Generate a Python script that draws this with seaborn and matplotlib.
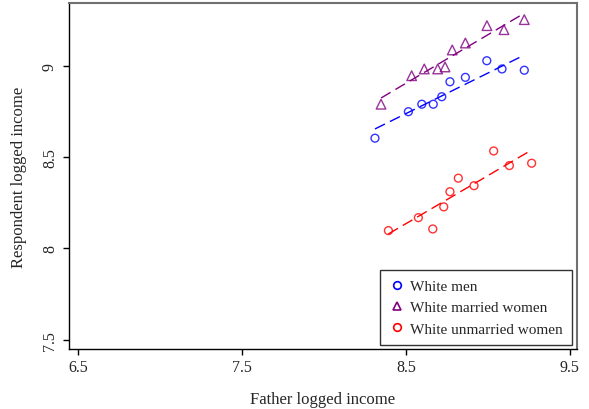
import matplotlib
matplotlib.use("Agg")
import matplotlib.pyplot as plt
from matplotlib.lines import Line2D
import seaborn as sns
import pandas as pd
import numpy as np

groups = ["White men", "White married women", "White unmarried women"]

men_x = [8.311, 8.515, 8.597, 8.667, 8.719, 8.769, 8.863, 8.994, 9.087, 9.223]
men_y = [8.603, 8.748, 8.789, 8.789, 8.830, 8.912, 8.936, 9.027, 8.982, 8.975]

married_x = [8.348, 8.535, 8.612, 8.694, 8.739, 8.783, 8.863, 8.995, 9.099, 9.223]
married_y = [8.789, 8.945, 8.982, 8.982, 8.993, 9.086, 9.124, 9.219, 9.197, 9.252]

unmarried_x = [8.393, 8.576, 8.664, 8.731, 8.769, 8.820, 8.916, 9.036, 9.132, 9.268]
unmarried_y = [8.097, 8.168, 8.106, 8.227, 8.310, 8.384, 8.343, 8.533, 8.453, 8.466]

x_ticks = [6.5, 7.5, 8.5, 9.5]
y_ticks = [7.5, 8, 8.5, 9]

df = pd.DataFrame({
    "father": men_x + married_x + unmarried_x,
    "resp": men_y + married_y + unmarried_y,
    "group": [groups[0]] * len(men_x) + [groups[1]] * len(married_x) + [groups[2]] * len(unmarried_x),
})

sns.set_style("ticks")
plt.rcParams["font.family"] = ["Liberation Serif", "DejaVu Serif"]

colors = {groups[0]: "#0000ff", groups[1]: "#800080", groups[2]: "#ff0000"}
markers = {groups[0]: "o", groups[1]: "^", groups[2]: "o"}
sizes = {groups[0]: 32, groups[1]: 48, groups[2]: 32}

fig = plt.figure(figsize=(5.89, 4.10), dpi=100)
ax = fig.add_axes([69 / 589, 60 / 410, (577 - 69) / 589, (350 - 4) / 410])

handles = []
for g in groups:
    sub = df[df["group"] == g]
    sns.regplot(data=sub, x="father", y="resp", ax=ax, ci=None, marker=markers[g],
                scatter_kws=dict(s=sizes[g], facecolors="none", edgecolors=colors[g],
                                 linewidths=1.0),
                line_kws=dict(color=colors[g], lw=1.0, dashes=(8, 4)))
    handles.append(Line2D([], [], ls="none", marker=markers[g], markersize=6.2 if markers[g] == "^" else 5.5,
                          markerfacecolor="none", markeredgecolor=colors[g], markeredgewidth=1.2, label=g))

ax.set_xlim(6.442, 9.545)
ax.set_ylim(7.449, 9.343)
ax.set_xticks(x_ticks)
ax.set_xticklabels([str(t) for t in x_ticks])
ax.set_yticks(y_ticks)
ax.set_yticklabels(["7.5", "8", "8.5", "9"], rotation=90, va="center")
ax.tick_params(axis="both", direction="out", length=4, width=1, labelsize=11.5, color="black")
ax.tick_params(axis="y", pad=4)
ax.tick_params(axis="x", pad=3)

ax.set_xlabel("Father logged income", fontsize=12, labelpad=12)
ax.set_ylabel("Respondent logged income", fontsize=12, labelpad=11)

for side in ["left", "bottom"]:
    ax.spines[side].set_color("black")
    ax.spines[side].set_linewidth(1.0)
for side in ["top", "right"]:
    ax.spines[side].set_visible(True)
    ax.spines[side].set_color("#707070")
    ax.spines[side].set_linewidth(1.5)

leg = ax.legend(handles=handles, loc="lower right", bbox_to_anchor=(0.99, 0.012), frameon=True,
                fancybox=False, shadow=False, fontsize=11, handletextpad=0.35, borderpad=0.6,
                labelspacing=0.5, handlelength=1.0, borderaxespad=0.0)
leg.get_frame().set_edgecolor("black")
leg.get_frame().set_linewidth(1.0)

fig.savefig("out.png", dpi=100)
